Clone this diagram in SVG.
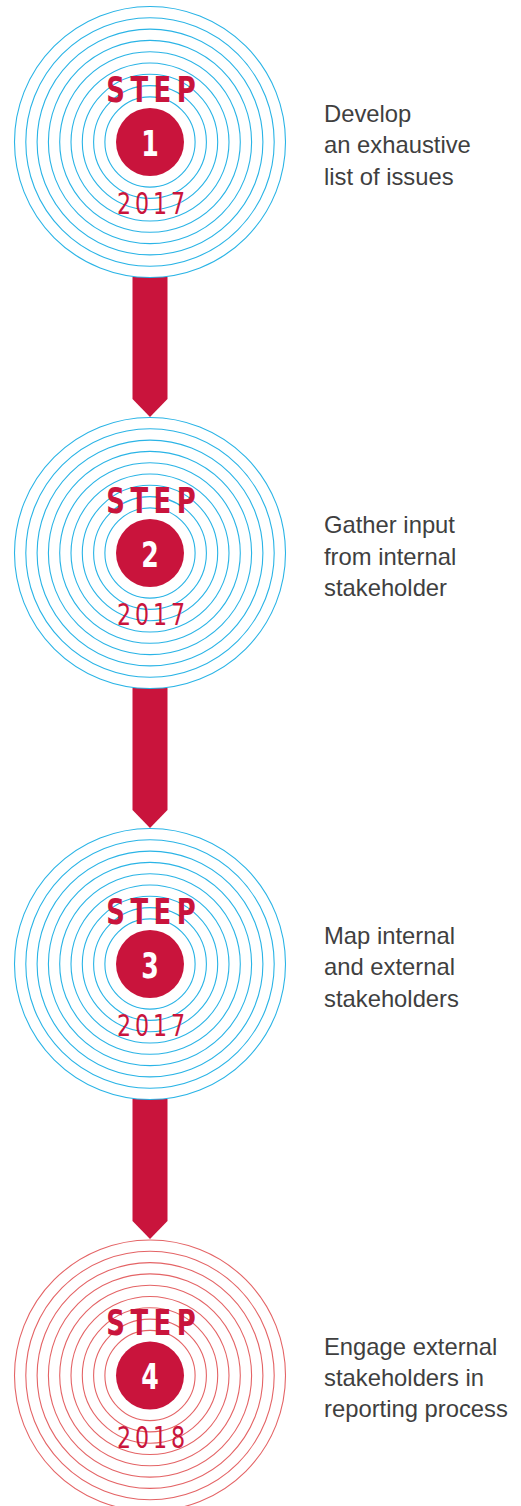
<svg xmlns="http://www.w3.org/2000/svg" xmlns:xlink="http://www.w3.org/1999/xlink" width="521" height="1506" viewBox="0 0 521 1506">
<style>
.ringsBlue{fill:none;stroke:#2AB4E6;stroke-width:1.1}
.ringsRed{fill:none;stroke:#E46466;stroke-width:1.1}
.disc{fill:#C9143C}
.step{font-family:"DejaVu Sans Condensed","DejaVu Sans",sans-serif;font-weight:bold;font-size:36px;fill:#C9143C;text-anchor:middle}
.year{font-family:"DejaVu Sans Condensed","DejaVu Sans",sans-serif;font-weight:normal;font-size:30px;fill:#C9143C;text-anchor:middle}
.num{font-family:"DejaVu Sans Condensed","DejaVu Sans",sans-serif;font-weight:bold;font-size:35px;fill:#FFFFFF;text-anchor:middle}
.label{font-family:"Liberation Sans",Arial,sans-serif;font-size:23.8px;fill:#3F3F3F}
.arrow{fill:#C9143C}
</style>
<defs>
<g id="rings">
<circle r="135.5"/><circle r="124.2"/><circle r="112.9"/><circle r="101.6"/><circle r="90.3"/><circle r="79"/><circle r="67.7"/><circle r="56.4"/><circle r="45.1"/>
</g>
</defs>
<g id="connectors">
<path class="arrow" d="M132.5,277 H167.5 V399 L150,417 L132.5,399 Z"/>
<path class="arrow" d="M132.5,688 H167.5 V810 L150,828 L132.5,810 Z"/>
<path class="arrow" d="M132.5,1099 H167.5 V1221 L150,1239 L132.5,1221 Z"/>
</g>
<g id="step1">
<use xlink:href="#rings" class="ringsBlue" transform="translate(150,142)"/>
<circle class="disc" cx="150" cy="142" r="34"/>
<text class="step" transform="translate(151,102) scale(0.8,1)" textLength="112" lengthAdjust="spacing">STEP</text>
<text class="num" transform="translate(150,155.5) scale(0.8,1)">1</text>
<text class="year" transform="translate(151,214) scale(0.82,1)" textLength="83" lengthAdjust="spacing">2017</text>
<text class="label"><tspan x="324" y="121.5">Develop</tspan><tspan x="324" y="153">an exhaustive</tspan><tspan x="324" y="184.5">list of issues</tspan></text>
</g>
<g id="step2">
<use xlink:href="#rings" class="ringsBlue" transform="translate(150,553)"/>
<circle class="disc" cx="150" cy="553" r="34"/>
<text class="step" transform="translate(151,513) scale(0.8,1)" textLength="112" lengthAdjust="spacing">STEP</text>
<text class="num" transform="translate(150,566.5) scale(0.8,1)">2</text>
<text class="year" transform="translate(151,625) scale(0.82,1)" textLength="83" lengthAdjust="spacing">2017</text>
<text class="label"><tspan x="324" y="533">Gather input</tspan><tspan x="324" y="564.5">from internal</tspan><tspan x="324" y="596">stakeholder</tspan></text>
</g>
<g id="step3">
<use xlink:href="#rings" class="ringsBlue" transform="translate(150,964)"/>
<circle class="disc" cx="150" cy="964" r="34"/>
<text class="step" transform="translate(151,924) scale(0.8,1)" textLength="112" lengthAdjust="spacing">STEP</text>
<text class="num" transform="translate(150,977.5) scale(0.8,1)">3</text>
<text class="year" transform="translate(151,1036) scale(0.82,1)" textLength="83" lengthAdjust="spacing">2017</text>
<text class="label"><tspan x="324" y="943.5">Map internal</tspan><tspan x="324" y="975">and external</tspan><tspan x="324" y="1006.5">stakeholders</tspan></text>
</g>
<g id="step4">
<use xlink:href="#rings" class="ringsRed" transform="translate(150,1375.5)"/>
<circle class="disc" cx="150" cy="1375.5" r="34"/>
<text class="step" transform="translate(151,1334.5) scale(0.8,1)" textLength="112" lengthAdjust="spacing">STEP</text>
<text class="num" transform="translate(150,1389) scale(0.8,1)">4</text>
<text class="year" transform="translate(151,1448) scale(0.82,1)" textLength="83" lengthAdjust="spacing">2018</text>
<text class="label"><tspan x="324" y="1355">Engage external</tspan><tspan x="324" y="1386">stakeholders in</tspan><tspan x="324" y="1417">reporting process</tspan></text>
</g>
</svg>
